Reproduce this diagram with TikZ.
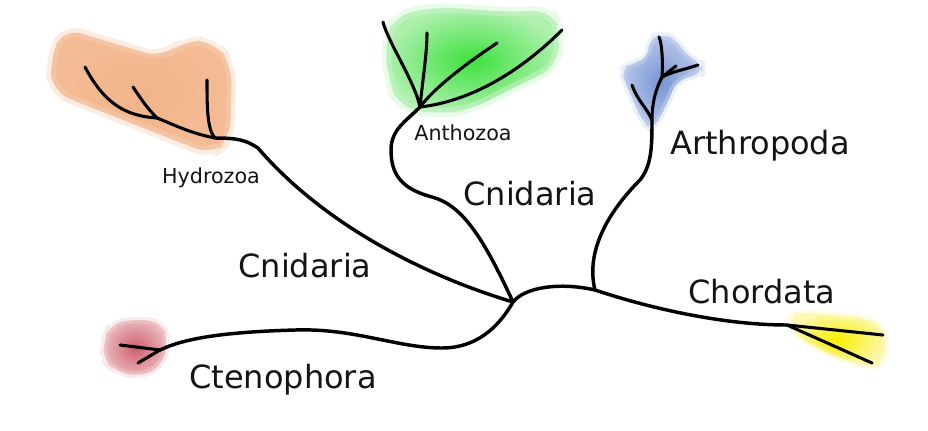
\documentclass[tikz,border=0pt]{standalone}
\usepackage{fontspec}
\setmainfont{DejaVu Sans}
\definecolor{hydroC}{RGB}{242,180,138}
\definecolor{anthoC}{RGB}{60,225,60}
\definecolor{anthoE}{RGB}{175,240,175}
\definecolor{arthroC}{RGB}{120,150,210}
\definecolor{arthroE}{RGB}{185,200,235}
\definecolor{cteC}{RGB}{205,95,110}
\definecolor{cteE}{RGB}{235,185,190}
\definecolor{chordC}{RGB}{250,238,0}
\definecolor{chordE}{RGB}{252,248,170}
\definecolor{labelC}{RGB}{20,20,20}
\begin{document}
\begin{tikzpicture}[x=0.75pt,y=-0.75pt, branch/.style={draw=black,line width=2.6pt,line cap=round,line join=round}, twig/.style={branch,line width=2.3pt}, blob/.style={rounded corners=14pt,line width=7pt,line join=round}, biglabel/.style={text=labelC,font=\fontsize{24}{28}\selectfont,inner sep=0pt}, smalllabel/.style={text=labelC,font=\fontsize{15.5}{18}\selectfont,inner sep=0pt}]
            \useasboundingbox (0,0) rectangle (928,430);

            \shade[blob,inner color=hydroC,outer color=hydroC!90,draw=hydroC!60,draw opacity=0.4] (63,28) -- (163,58) -- (183,40) -- (215,42) -- (232,65) -- (230,140) -- (212,155) -- (52,92) -- (50,60) -- cycle;
            \shade[blob,inner color=anthoC,outer color=anthoE,draw=anthoE!60,draw opacity=0.45] (395,15) -- (437,7) -- (510,12) -- (552,10) -- (560,32) -- (557,67) -- (513,88) -- (470,110) -- (437,114) -- (400,108) -- (388,80) -- (385,40) -- cycle;
            \shade[blob,rounded corners=8pt,line width=5pt,inner color=arthroC,outer color=arthroE,draw=arthroE!70,draw opacity=0.4] (650,37) -- (664,34) -- (677,40) -- (687,57) -- (702,63) -- (702,74) -- (677,80) -- (667,104) -- (653,130) -- (643,123) -- (620,70) -- (632,63) -- (647,60) -- cycle;
            \shade[blob,rounded corners=10pt,line width=5pt,inner color=cteC,outer color=cteE,draw=cteE!70,draw opacity=0.4] (104,340) -- (110,324) -- (135,319) -- (162,322) -- (168,342) -- (162,366) -- (140,377) -- (115,371) -- (103,360) -- cycle;
            \shade[blob,rounded corners=10pt,line width=5pt,inner color=chordC,outer color=chordE,draw=chordE!80,draw opacity=0.4] (788,318) -- (800,312) -- (867,318) -- (885,328) -- (885,362) -- (870,368) -- (830,355) -- (795,335) -- cycle;

            \coordinate (hub) at (513,302);
            \coordinate (hyBend) at (258,148);
            \coordinate (hyJ) at (215,138);
            \coordinate (hyK) at (157,118);
            \coordinate (hyTipA) at (207,80);
            \coordinate (hyTipB) at (133,87);
            \coordinate (hyTipC) at (85,67);
            \coordinate (anBend) at (432,197);
            \coordinate (anLeft) at (391,150);
            \coordinate (anJ) at (420,107);
            \coordinate (anTipA) at (383,22);
            \coordinate (anTipB) at (427,33);
            \coordinate (anTipC) at (497,43);
            \coordinate (anTipD) at (562,30);
            \coordinate (arJ) at (595,290);
            \coordinate (arBend) at (640,180);
            \coordinate (arK) at (652,120);
            \coordinate (arL) at (662,77);
            \coordinate (arTipA) at (632,85);
            \coordinate (arTipB) at (659,37);
            \coordinate (arTipC) at (698,65);
            \coordinate (arTipD) at (676,66);
            \coordinate (ctBend) at (442,348);
            \coordinate (ctMid) at (295,330);
            \coordinate (ctJ) at (160,350);
            \coordinate (ctTipA) at (120,345);
            \coordinate (ctTipB) at (138,363);
            \coordinate (chJ) at (787,325);
            \coordinate (chTipA) at (883,335);
            \coordinate (chTipB) at (872,363);

            \draw[branch] (hub) .. controls +(-100,-30) and +(60,70) .. (hyBend) .. controls +(-12,-8) and +(22,0) .. (hyJ);
            \draw[twig] (hyJ) .. controls +(-8,-8) and +(0,25) .. (hyTipA);
            \draw[twig] (hyJ) .. controls +(-25,-5) and +(20,8) .. (hyK);
            \draw[twig] (hyK) .. controls +(-10,-10) and +(8,12) .. (hyTipB);
            \draw[twig] (hyK) .. controls +(-30,-2) and +(20,38) .. (hyTipC);

            \draw[branch] (hub) .. controls +(-30,-65) and +(30,8) .. (anBend) .. controls +(-30,-8) and +(0,25) .. (anLeft) .. controls +(0,-20) and +(-15,15) .. (anJ);
            \draw[twig] (anJ) .. controls +(-5,-25) and +(5,20) .. (anTipA);
            \draw[twig] (anJ) .. controls +(3,-30) and +(0,20) .. (anTipB);
            \draw[twig] (anJ) .. controls +(15,-20) and +(-30,20) .. (anTipC);
            \draw[twig] (anJ) .. controls +(60,-7) and +(-32,32) .. (anTipD);

            \draw[branch] (hub) .. controls +(12,-15) and +(-35,-8) .. (arJ) .. controls +(60,20) and +(-60,0) .. (chJ);
            \draw[branch] (arJ) .. controls +(-10,-40) and +(-30,30) .. (arBend) .. controls +(12,-15) and +(0,25) .. (arK);
            \draw[twig] (arK) .. controls +(-5,-12) and +(5,15) .. (arTipA);
            \draw[twig] (arK) .. controls +(0,-20) and +(-5,10) .. (arL);
            \draw[twig] (arL) .. controls +(1,-15) and +(3,6) .. (arTipB);
            \draw[twig] (arL) .. controls +(12,-6) and +(-15,5) .. (arTipC);
            \draw[twig] (arL) -- (arTipD);
            \draw[twig] (chJ) -- (chTipA);
            \draw[twig] (chJ) -- (chTipB);

            \draw[branch] (hub) .. controls +(-20,35) and +(25,0) .. (ctBend) .. controls +(-45,0) and +(60,-2) .. (ctMid) .. controls +(-70,2) and +(25,-12) .. (ctJ);
            \draw[twig] (ctJ) -- (ctTipA);
            \draw[twig] (ctJ) -- (ctTipB);

            \node[smalllabel] (hydrozoa) at (211,178) {Hydrozoa};
            \node[smalllabel] (anthozoa) at (463,133) {Anthozoa};
            \node[biglabel] (cnidariaU) at (530,194) {Cnidaria};
            \node[biglabel] (cnidariaL) at (305,266) {Cnidaria};
            \node[biglabel] (arthropoda) at (760,146) {Arthropoda};
            \node[biglabel] (chordata) at (762,292) {Chordata};
            \node[biglabel] (ctenophora) at (283,380) {Ctenophora};
        \end{tikzpicture}
\end{document}
